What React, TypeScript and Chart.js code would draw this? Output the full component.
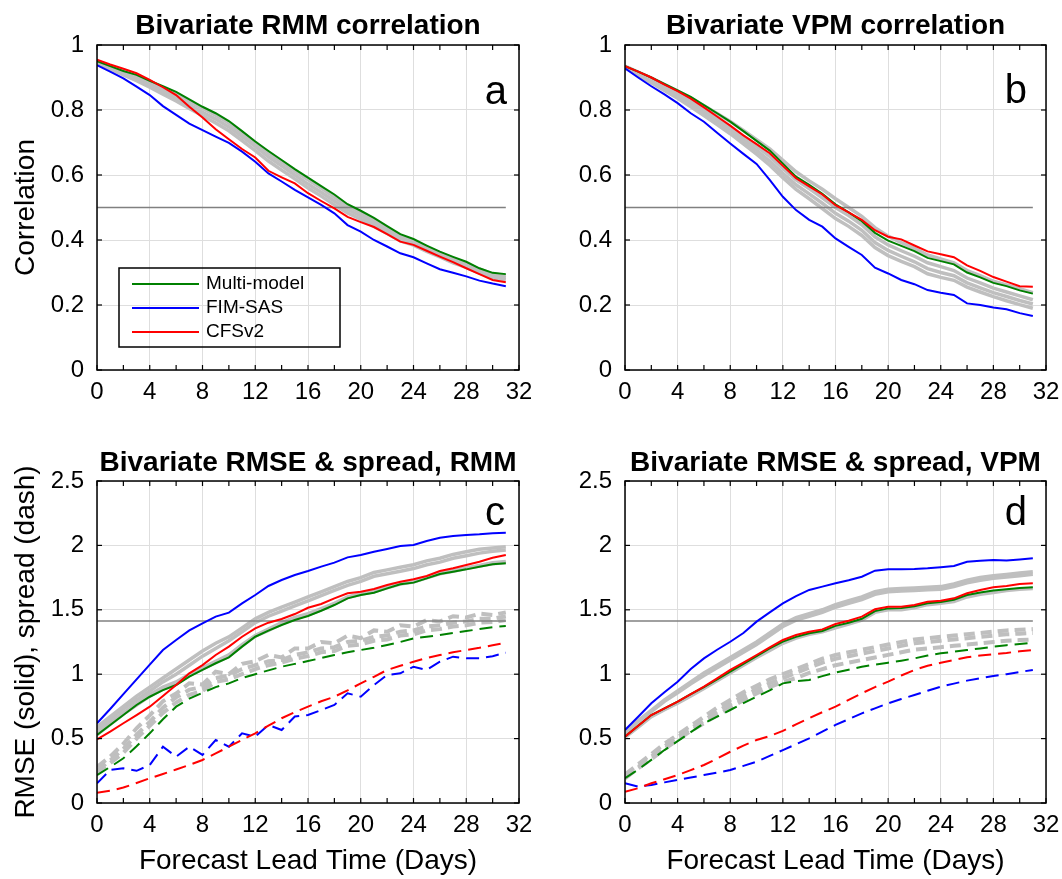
import { useEffect, useRef } from "react";
import { Chart, registerables } from "chart.js";

Chart.register(...registerables);

// ---------------- data ----------------
const leadDays = [0, 1, 2, 3, 4, 5, 6, 7, 8, 9, 10, 11, 12, 13, 14, 15, 16, 17, 18, 19, 20, 21, 22, 23, 24, 25, 26, 27, 28, 29, 30, 31];
const xTickLabels = ["0", "4", "8", "12", "16", "20", "24", "28", "32"];
const corrTickLabels = ["0", "0.2", "0.4", "0.6", "0.8", "1"];
const rmseTickLabels = ["0", "0.5", "1", "1.5", "2", "2.5"];
const legendLabels = ["Multi-model", "FIM-SAS", "CFSv2"];
const panelTitles = ["Bivariate RMM correlation", "Bivariate VPM correlation", "Bivariate RMSE & spread, RMM", "Bivariate RMSE & spread, VPM"];
const panelLetters = ["a", "b", "c", "d"];
const corrThreshold = 0.5;
const rmseThreshold = 1.414;

// (a) RMM correlation
const corrMultiRMM = [0.95, 0.935, 0.92, 0.908, 0.89, 0.873, 0.856, 0.833, 0.81, 0.79, 0.766, 0.735, 0.703, 0.674, 0.646, 0.618, 0.592, 0.566, 0.54, 0.51, 0.49, 0.468, 0.443, 0.418, 0.403, 0.383, 0.364, 0.348, 0.333, 0.313, 0.299, 0.295];
const corrFimRMM = [0.938, 0.918, 0.897, 0.872, 0.846, 0.812, 0.785, 0.758, 0.738, 0.718, 0.699, 0.672, 0.641, 0.605, 0.58, 0.554, 0.531, 0.508, 0.482, 0.446, 0.426, 0.4, 0.38, 0.359, 0.347, 0.328, 0.31, 0.299, 0.288, 0.275, 0.266, 0.258];
const corrCfsRMM = [0.955, 0.94, 0.927, 0.913, 0.893, 0.87, 0.846, 0.81, 0.777, 0.741, 0.71, 0.68, 0.654, 0.613, 0.593, 0.574, 0.544, 0.52, 0.497, 0.471, 0.455, 0.44, 0.418, 0.395, 0.385, 0.367, 0.349, 0.332, 0.313, 0.295, 0.277, 0.27];
const corrGrayRMM1 = [0.948, 0.933, 0.917, 0.902, 0.885, 0.866, 0.848, 0.826, 0.805, 0.784, 0.76, 0.73, 0.7, 0.668, 0.64, 0.612, 0.585, 0.56, 0.532, 0.505, 0.484, 0.462, 0.438, 0.413, 0.398, 0.378, 0.36, 0.343, 0.328, 0.31, 0.296, 0.29];
const corrGrayRMM2 = [0.947, 0.93, 0.913, 0.897, 0.878, 0.858, 0.838, 0.815, 0.793, 0.772, 0.748, 0.718, 0.688, 0.656, 0.628, 0.6, 0.572, 0.547, 0.52, 0.494, 0.474, 0.452, 0.428, 0.404, 0.39, 0.372, 0.354, 0.337, 0.322, 0.304, 0.29, 0.284];
const corrGrayRMM3 = [0.945, 0.927, 0.908, 0.89, 0.87, 0.849, 0.828, 0.805, 0.782, 0.76, 0.736, 0.706, 0.675, 0.643, 0.615, 0.588, 0.56, 0.535, 0.508, 0.483, 0.464, 0.442, 0.42, 0.397, 0.384, 0.365, 0.348, 0.33, 0.316, 0.298, 0.284, 0.278];

// (b) VPM correlation
const corrMultiVPM = [0.935, 0.918, 0.9, 0.88, 0.86, 0.84, 0.815, 0.79, 0.764, 0.735, 0.705, 0.675, 0.635, 0.595, 0.57, 0.542, 0.51, 0.485, 0.458, 0.422, 0.398, 0.382, 0.366, 0.345, 0.335, 0.325, 0.3, 0.285, 0.268, 0.258, 0.245, 0.235];
const corrFimVPM = [0.928, 0.9, 0.873, 0.848, 0.821, 0.79, 0.764, 0.73, 0.697, 0.665, 0.634, 0.585, 0.533, 0.492, 0.462, 0.441, 0.405, 0.379, 0.354, 0.315, 0.297, 0.277, 0.264, 0.246, 0.238, 0.231, 0.205, 0.2, 0.192, 0.187, 0.175, 0.166];
const corrCfsVPM = [0.935, 0.918, 0.9, 0.878, 0.858, 0.835, 0.808, 0.78, 0.752, 0.722, 0.695, 0.667, 0.628, 0.59, 0.565, 0.54, 0.507, 0.485, 0.462, 0.43, 0.41, 0.402, 0.383, 0.365, 0.356, 0.347, 0.322, 0.305, 0.286, 0.272, 0.258, 0.256];
const corrGrayVPM1 = [0.935, 0.917, 0.898, 0.878, 0.858, 0.837, 0.813, 0.789, 0.765, 0.737, 0.709, 0.68, 0.645, 0.61, 0.582, 0.556, 0.527, 0.5, 0.473, 0.438, 0.412, 0.392, 0.374, 0.354, 0.342, 0.33, 0.306, 0.29, 0.273, 0.262, 0.25, 0.238];
const corrGrayVPM2 = [0.933, 0.913, 0.892, 0.87, 0.848, 0.825, 0.8, 0.773, 0.746, 0.717, 0.688, 0.657, 0.62, 0.585, 0.558, 0.53, 0.5, 0.475, 0.447, 0.41, 0.385, 0.367, 0.35, 0.33, 0.318, 0.306, 0.283, 0.268, 0.252, 0.24, 0.228, 0.216];
const corrGrayVPM3 = [0.932, 0.91, 0.888, 0.865, 0.842, 0.818, 0.792, 0.765, 0.737, 0.707, 0.676, 0.643, 0.605, 0.57, 0.542, 0.513, 0.482, 0.458, 0.43, 0.392, 0.368, 0.35, 0.333, 0.312, 0.3, 0.29, 0.268, 0.253, 0.238, 0.226, 0.214, 0.203];
const corrGrayVPM4 = [0.93, 0.907, 0.884, 0.86, 0.836, 0.81, 0.783, 0.755, 0.727, 0.696, 0.664, 0.63, 0.592, 0.556, 0.527, 0.497, 0.466, 0.442, 0.414, 0.377, 0.352, 0.334, 0.318, 0.296, 0.285, 0.276, 0.255, 0.24, 0.226, 0.213, 0.201, 0.19];

// (c) RMM RMSE (solid) and spread (dash)
const rmseMultiRMM = [0.528, 0.606, 0.683, 0.761, 0.825, 0.877, 0.916, 0.981, 1.033, 1.085, 1.131, 1.214, 1.291, 1.338, 1.382, 1.421, 1.452, 1.493, 1.537, 1.589, 1.615, 1.633, 1.666, 1.698, 1.711, 1.744, 1.778, 1.796, 1.814, 1.835, 1.853, 1.861];
const rmseFimRMM = [0.619, 0.73, 0.845, 0.96, 1.075, 1.188, 1.266, 1.34, 1.395, 1.447, 1.478, 1.55, 1.615, 1.685, 1.731, 1.77, 1.801, 1.835, 1.866, 1.907, 1.925, 1.951, 1.972, 1.995, 2.003, 2.034, 2.06, 2.073, 2.081, 2.086, 2.094, 2.099];
const rmseCfsRMM = [0.494, 0.554, 0.619, 0.683, 0.748, 0.831, 0.916, 1.007, 1.071, 1.149, 1.214, 1.291, 1.356, 1.4, 1.429, 1.467, 1.516, 1.545, 1.589, 1.628, 1.641, 1.661, 1.693, 1.718, 1.737, 1.762, 1.801, 1.822, 1.848, 1.873, 1.904, 1.925];
const rmseGrayRMM1 = [0.59, 0.67, 0.75, 0.83, 0.9, 0.97, 1.04, 1.11, 1.18, 1.24, 1.29, 1.36, 1.43, 1.48, 1.52, 1.56, 1.6, 1.64, 1.68, 1.72, 1.75, 1.79, 1.81, 1.83, 1.85, 1.88, 1.9, 1.93, 1.95, 1.97, 1.98, 1.99];
const rmseGrayRMM2 = [0.57, 0.65, 0.73, 0.8, 0.87, 0.94, 1.0, 1.07, 1.14, 1.2, 1.26, 1.33, 1.4, 1.45, 1.49, 1.53, 1.57, 1.61, 1.65, 1.69, 1.72, 1.76, 1.78, 1.8, 1.82, 1.85, 1.87, 1.9, 1.92, 1.94, 1.955, 1.965];
const rmseGrayRMM3 = [0.54, 0.62, 0.7, 0.77, 0.84, 0.9, 0.94, 1.0, 1.05, 1.1, 1.15, 1.23, 1.3, 1.35, 1.4, 1.44, 1.47, 1.51, 1.55, 1.6, 1.625, 1.645, 1.675, 1.705, 1.72, 1.75, 1.785, 1.805, 1.825, 1.845, 1.865, 1.875];
const rmseGrayRMM4 = [0.53, 0.61, 0.69, 0.76, 0.83, 0.885, 0.925, 0.99, 1.04, 1.09, 1.14, 1.22, 1.295, 1.34, 1.39, 1.43, 1.46, 1.5, 1.545, 1.595, 1.62, 1.64, 1.67, 1.7, 1.715, 1.748, 1.78, 1.8, 1.82, 1.84, 1.858, 1.868];
const spreadMultiRMM = [0.217, 0.28, 0.347, 0.44, 0.541, 0.65, 0.748, 0.81, 0.856, 0.9, 0.929, 0.97, 1.0, 1.03, 1.058, 1.08, 1.102, 1.125, 1.149, 1.17, 1.188, 1.205, 1.227, 1.25, 1.278, 1.29, 1.304, 1.32, 1.335, 1.35, 1.365, 1.374];
const spreadFimRMM = [0.153, 0.256, 0.269, 0.25, 0.295, 0.437, 0.36, 0.437, 0.373, 0.489, 0.437, 0.541, 0.515, 0.606, 0.567, 0.671, 0.683, 0.722, 0.761, 0.852, 0.825, 0.916, 0.994, 1.007, 1.058, 1.033, 1.097, 1.136, 1.123, 1.123, 1.14, 1.167];
const spreadCfsRMM = [0.08, 0.095, 0.12, 0.155, 0.192, 0.225, 0.26, 0.295, 0.334, 0.385, 0.437, 0.49, 0.541, 0.6, 0.658, 0.705, 0.748, 0.79, 0.825, 0.875, 0.929, 0.98, 1.033, 1.065, 1.097, 1.125, 1.149, 1.17, 1.188, 1.205, 1.225, 1.245];
const spreadGrayRMM1 = [0.28, 0.36, 0.46, 0.58, 0.68, 0.79, 0.85, 0.93, 0.92, 1.02, 1.0, 1.08, 1.1, 1.15, 1.13, 1.2, 1.2, 1.25, 1.24, 1.3, 1.28, 1.34, 1.33, 1.38, 1.37, 1.42, 1.41, 1.45, 1.44, 1.47, 1.46, 1.48];
const spreadGrayRMM2 = [0.25, 0.33, 0.42, 0.53, 0.63, 0.74, 0.82, 0.88, 0.9, 0.97, 0.99, 1.04, 1.07, 1.1, 1.11, 1.15, 1.17, 1.2, 1.21, 1.25, 1.26, 1.29, 1.3, 1.33, 1.34, 1.37, 1.38, 1.4, 1.41, 1.43, 1.43, 1.45];
const spreadGrayRMM3 = [0.23, 0.31, 0.39, 0.5, 0.6, 0.7, 0.78, 0.84, 0.87, 0.94, 0.96, 1.0, 1.04, 1.07, 1.09, 1.12, 1.14, 1.17, 1.18, 1.22, 1.23, 1.26, 1.27, 1.3, 1.31, 1.34, 1.35, 1.37, 1.38, 1.4, 1.405, 1.42];

// (d) VPM RMSE (solid) and spread (dash)
const rmseMultiVPM = [0.515, 0.6, 0.683, 0.735, 0.787, 0.845, 0.9, 0.96, 1.02, 1.08, 1.14, 1.2, 1.253, 1.29, 1.318, 1.335, 1.375, 1.4, 1.43, 1.49, 1.511, 1.513, 1.527, 1.55, 1.56, 1.578, 1.615, 1.635, 1.649, 1.66, 1.67, 1.675];
const rmseFimVPM = [0.567, 0.67, 0.774, 0.86, 0.942, 1.04, 1.123, 1.19, 1.252, 1.32, 1.408, 1.48, 1.55, 1.607, 1.654, 1.68, 1.706, 1.73, 1.757, 1.804, 1.814, 1.815, 1.817, 1.822, 1.83, 1.84, 1.873, 1.88, 1.887, 1.882, 1.89, 1.9];
const rmseCfsVPM = [0.515, 0.6, 0.683, 0.735, 0.787, 0.845, 0.903, 0.968, 1.033, 1.09, 1.149, 1.208, 1.266, 1.304, 1.33, 1.348, 1.39, 1.415, 1.447, 1.504, 1.524, 1.524, 1.537, 1.563, 1.57, 1.589, 1.628, 1.654, 1.675, 1.685, 1.7, 1.706];
const rmseGrayVPM1 = [0.55, 0.64, 0.72, 0.8, 0.87, 0.94, 1.01, 1.07, 1.13, 1.19, 1.25, 1.32, 1.39, 1.44, 1.47, 1.5, 1.54, 1.57, 1.6, 1.64, 1.66, 1.665, 1.67, 1.675, 1.68, 1.7, 1.73, 1.75, 1.765, 1.775, 1.785, 1.795];
const rmseGrayVPM2 = [0.54, 0.63, 0.71, 0.79, 0.855, 0.925, 0.99, 1.05, 1.11, 1.17, 1.23, 1.3, 1.37, 1.42, 1.45, 1.48, 1.52, 1.55, 1.58, 1.62, 1.64, 1.645, 1.65, 1.655, 1.66, 1.68, 1.71, 1.73, 1.745, 1.755, 1.765, 1.775];
const rmseGrayVPM3 = [0.51, 0.59, 0.67, 0.725, 0.775, 0.83, 0.89, 0.95, 1.01, 1.07, 1.13, 1.185, 1.24, 1.28, 1.31, 1.33, 1.36, 1.39, 1.42, 1.48, 1.5, 1.5, 1.515, 1.54, 1.55, 1.565, 1.6, 1.62, 1.635, 1.65, 1.66, 1.665];
const spreadMultiVPM = [0.192, 0.26, 0.335, 0.411, 0.48, 0.55, 0.619, 0.67, 0.722, 0.775, 0.825, 0.875, 0.929, 0.945, 0.955, 0.985, 1.012, 1.035, 1.058, 1.075, 1.089, 1.105, 1.123, 1.145, 1.162, 1.175, 1.188, 1.2, 1.214, 1.225, 1.235, 1.245];
const spreadFimVPM = [0.153, 0.127, 0.14, 0.16, 0.179, 0.198, 0.217, 0.236, 0.256, 0.288, 0.321, 0.366, 0.411, 0.456, 0.502, 0.554, 0.606, 0.651, 0.696, 0.735, 0.774, 0.807, 0.839, 0.871, 0.903, 0.927, 0.95, 0.968, 0.986, 1.0, 1.017, 1.033];
const spreadCfsVPM = [0.088, 0.115, 0.153, 0.185, 0.217, 0.255, 0.295, 0.345, 0.398, 0.445, 0.489, 0.52, 0.56, 0.61, 0.658, 0.705, 0.748, 0.8, 0.852, 0.9, 0.942, 0.99, 1.033, 1.065, 1.089, 1.11, 1.131, 1.145, 1.155, 1.165, 1.178, 1.188];
const spreadGrayVPM1 = [0.22, 0.3, 0.38, 0.46, 0.53, 0.6, 0.67, 0.74, 0.8, 0.86, 0.91, 0.96, 1.0, 1.04, 1.08, 1.12, 1.15, 1.17, 1.19, 1.21, 1.23, 1.25, 1.27, 1.28, 1.29, 1.3, 1.31, 1.32, 1.33, 1.34, 1.345, 1.35];
const spreadGrayVPM2 = [0.2, 0.28, 0.36, 0.44, 0.51, 0.58, 0.64, 0.71, 0.77, 0.83, 0.88, 0.93, 0.97, 1.01, 1.05, 1.09, 1.12, 1.14, 1.16, 1.18, 1.2, 1.22, 1.24, 1.25, 1.26, 1.27, 1.28, 1.29, 1.3, 1.31, 1.315, 1.32];
const spreadGrayVPM3 = [0.19, 0.27, 0.34, 0.42, 0.49, 0.56, 0.62, 0.68, 0.74, 0.8, 0.85, 0.9, 0.94, 0.97, 1.01, 1.04, 1.07, 1.09, 1.11, 1.13, 1.15, 1.17, 1.19, 1.2, 1.21, 1.22, 1.23, 1.24, 1.25, 1.26, 1.265, 1.27];

// ---------------- styling ----------------
const FONT = '"Liberation Sans", Arial, Helvetica, sans-serif';
const C_MULTI = "#008000";
const C_FIM = "#0000ff";
const C_CFS = "#ff0000";
const C_GRAY = "#bfbfbf";
const C_REF = "#808080";
const C_GRID = "#dedede";
const legendColors = [C_MULTI, C_FIM, C_CFS];
const DASH = [13, 7];

const pts = (vals: number[]) => vals.map((v, i) => ({ x: leadDays[i], y: v }));
const refPts = (y: number) => [
  { x: leadDays[0], y },
  { x: leadDays[leadDays.length - 1], y },
];

function grayLine(vals: number[], dashed = false) {
  return {
    data: pts(vals),
    borderColor: C_GRAY,
    borderWidth: dashed ? 4 : 3.5,
    borderDash: dashed ? [11, 6] : [],
    order: 10,
  };
}
function colorLine(vals: number[], color: string, order: number, dashed = false) {
  return {
    data: pts(vals),
    borderColor: color,
    borderWidth: 2,
    borderDash: dashed ? DASH : [],
    order,
  };
}
function refLine(y: number) {
  return { data: refPts(y), borderColor: C_REF, borderWidth: 1.5, order: 8 };
}

const decorPlugin = {
  id: "decor",
  afterDraw(chart: any, _args: any, o: any) {
    const { ctx, chartArea: ca, scales } = chart;
    const xs = scales.x;
    const ys = scales.y;
    ctx.save();
    const seg = (x1: number, y1: number, x2: number, y2: number) => {
      ctx.beginPath();
      ctx.moveTo(x1, y1);
      ctx.lineTo(x2, y2);
      ctx.stroke();
    };
    ctx.strokeStyle = "#000";
    ctx.lineWidth = 1.2;
    xs.ticks.forEach((t: any) => {
      const px = xs.getPixelForValue(t.value);
      seg(px, ca.bottom, px, ca.bottom - 5);
      seg(px, ca.top, px, ca.top + 5);
    });
    ys.ticks.forEach((t: any) => {
      const py = ys.getPixelForValue(t.value);
      seg(ca.left, py, ca.left + 5, py);
      seg(ca.right, py, ca.right - 5, py);
    });
    ctx.lineWidth = 1.5;
    ctx.strokeRect(ca.left, ca.top, ca.right - ca.left, ca.bottom - ca.top);

    // title
    ctx.fillStyle = "#000";
    ctx.font = `bold 28px ${FONT}`;
    ctx.textAlign = "center";
    ctx.textBaseline = "alphabetic";
    ctx.fillText(o.title, (ca.left + ca.right) / 2, ca.top - o.titleGap);

    // panel letter
    ctx.font = `40px ${FONT}`;
    ctx.textAlign = "right";
    ctx.fillText(o.letter, ca.right - o.letterRight, ca.top + o.letterDrop);

    // legend
    if (o.legend) {
      const bw = 221;
      const bh = 79;
      const bx = ca.left + 22;
      const by = ca.bottom - 23 - bh;
      ctx.strokeStyle = "#000";
      ctx.lineWidth = 1.5;
      ctx.strokeRect(bx, by, bw, bh);
      ctx.font = `19px ${FONT}`;
      ctx.textAlign = "left";
      ctx.textBaseline = "middle";
      o.legend.labels.forEach((lab: string, i: number) => {
        const yy = by + 16 + i * 24;
        ctx.strokeStyle = o.legend.colors[i];
        ctx.lineWidth = 2;
        seg(bx + 13, yy, bx + 80, yy);
        ctx.fillStyle = "#000";
        ctx.fillText(lab, bx + 87, yy);
      });
    }
    ctx.restore();
  },
};

type PanelSpec = {
  datasets: any[];
  yMax: number;
  yStep: number;
  yLabels: string[];
  yTitle: string | null;
  xTitle: string | null;
  yWidth: number;
  padTop: number;
  padRight: number;
  xHeight: number;
  title: string;
  titleGap: number;
  letter: string;
  letterRight: number;
  letterDrop: number;
  legend: boolean;
};

function makeConfig(p: PanelSpec): any {
  return {
    type: "line",
    data: { datasets: p.datasets },
    plugins: [decorPlugin],
    options: {
      responsive: false,
      animation: false,
      events: [],
      layout: { padding: { left: 0, right: p.padRight, top: p.padTop, bottom: 0 } },
      elements: { point: { radius: 0 }, line: { tension: 0, fill: false } },
      plugins: {
        legend: { display: false },
        tooltip: { enabled: false },
        title: { display: false },
        decor: {
          title: p.title,
          titleGap: p.titleGap,
          letter: p.letter,
          letterRight: p.letterRight,
          letterDrop: p.letterDrop,
          legend: p.legend ? { labels: legendLabels, colors: legendColors } : null,
        },
      },
      scales: {
        x: {
          type: "linear",
          min: 0,
          max: 32,
          border: { display: false },
          grid: {
            drawTicks: false,
            lineWidth: 1,
            color: (c: any) => (c.tick && c.tick.value % 4 === 0 ? C_GRID : "rgba(0,0,0,0)"),
          },
          ticks: {
            stepSize: 2,
            autoSkip: false,
            maxRotation: 0,
            padding: 8,
            color: "#000",
            font: { family: FONT, size: 24 },
            callback: (v: number) => (v % 4 === 0 ? xTickLabels[v / 4] : ""),
          },
          title: {
            display: !!p.xTitle,
            text: p.xTitle || "",
            color: "#000",
            font: { family: FONT, size: 28 },
            padding: { top: 0, bottom: 1 },
          },
          afterFit: (s: any) => {
            s.height = p.xHeight;
            s.paddingLeft = 0;
            s.paddingRight = 0;
          },
        },
        y: {
          type: "linear",
          min: 0,
          max: p.yMax,
          border: { display: false },
          grid: { drawTicks: false, lineWidth: 1, color: C_GRID },
          ticks: {
            stepSize: p.yStep,
            padding: 13,
            color: "#000",
            font: { family: FONT, size: 24 },
            callback: (v: number) => p.yLabels[Math.round(v / p.yStep)],
          },
          title: {
            display: !!p.yTitle,
            text: p.yTitle || "",
            color: "#000",
            font: { family: FONT, size: 28 },
            padding: { top: 9, bottom: 0 },
          },
          afterFit: (s: any) => {
            s.width = p.yWidth;
            s.paddingTop = 0;
            s.paddingBottom = 0;
          },
        },
      },
    },
  };
}

const specA: PanelSpec = {
  datasets: [
    colorLine(corrCfsRMM, C_CFS, 1),
    colorLine(corrFimRMM, C_FIM, 2),
    colorLine(corrMultiRMM, C_MULTI, 3),
    refLine(corrThreshold),
    grayLine(corrGrayRMM1),
    grayLine(corrGrayRMM2),
    grayLine(corrGrayRMM3),
  ],
  yMax: 1,
  yStep: 0.2,
  yLabels: corrTickLabels,
  yTitle: "Correlation",
  xTitle: null,
  yWidth: 97,
  padTop: 45,
  padRight: 12,
  xHeight: 70,
  title: panelTitles[0],
  titleGap: 11,
  letter: panelLetters[0],
  letterRight: 12,
  letterDrop: 59,
  legend: true,
};

const specB: PanelSpec = {
  datasets: [
    colorLine(corrCfsVPM, C_CFS, 1),
    colorLine(corrFimVPM, C_FIM, 2),
    colorLine(corrMultiVPM, C_MULTI, 3),
    refLine(corrThreshold),
    grayLine(corrGrayVPM1),
    grayLine(corrGrayVPM2),
    grayLine(corrGrayVPM3),
    grayLine(corrGrayVPM4),
  ],
  yMax: 1,
  yStep: 0.2,
  yLabels: corrTickLabels,
  yTitle: null,
  xTitle: null,
  yWidth: 94,
  padTop: 45,
  padRight: 16,
  xHeight: 70,
  title: panelTitles[1],
  titleGap: 11,
  letter: panelLetters[1],
  letterRight: 19,
  letterDrop: 58,
  legend: false,
};

const specC: PanelSpec = {
  datasets: [
    colorLine(rmseCfsRMM, C_CFS, 1),
    colorLine(rmseFimRMM, C_FIM, 2),
    colorLine(rmseMultiRMM, C_MULTI, 3),
    colorLine(spreadCfsRMM, C_CFS, 4, true),
    colorLine(spreadFimRMM, C_FIM, 5, true),
    colorLine(spreadMultiRMM, C_MULTI, 6, true),
    refLine(rmseThreshold),
    grayLine(rmseGrayRMM1),
    grayLine(rmseGrayRMM2),
    grayLine(rmseGrayRMM3),
    grayLine(rmseGrayRMM4),
    grayLine(spreadGrayRMM1, true),
    grayLine(spreadGrayRMM2, true),
    grayLine(spreadGrayRMM3, true),
  ],
  yMax: 2.5,
  yStep: 0.5,
  yLabels: rmseTickLabels,
  yTitle: "RMSE (solid), spread (dash)",
  xTitle: "Forecast Lead Time (Days)",
  yWidth: 97,
  padTop: 41,
  padRight: 12,
  xHeight: 76,
  title: panelTitles[2],
  titleGap: 10,
  letter: panelLetters[2],
  letterRight: 14,
  letterDrop: 44,
  legend: false,
};

const specD: PanelSpec = {
  datasets: [
    colorLine(rmseCfsVPM, C_CFS, 1),
    colorLine(rmseFimVPM, C_FIM, 2),
    colorLine(rmseMultiVPM, C_MULTI, 3),
    colorLine(spreadCfsVPM, C_CFS, 4, true),
    colorLine(spreadFimVPM, C_FIM, 5, true),
    colorLine(spreadMultiVPM, C_MULTI, 6, true),
    refLine(rmseThreshold),
    grayLine(rmseGrayVPM1),
    grayLine(rmseGrayVPM2),
    grayLine(rmseGrayVPM3),
    grayLine(spreadGrayVPM1, true),
    grayLine(spreadGrayVPM2, true),
    grayLine(spreadGrayVPM3, true),
  ],
  yMax: 2.5,
  yStep: 0.5,
  yLabels: rmseTickLabels,
  yTitle: null,
  xTitle: "Forecast Lead Time (Days)",
  yWidth: 94,
  padTop: 41,
  padRight: 16,
  xHeight: 76,
  title: panelTitles[3],
  titleGap: 10,
  letter: panelLetters[3],
  letterRight: 19,
  letterDrop: 44,
  legend: false,
};

function Panel({ left, top, width, height, spec }: { left: number; top: number; width: number; height: number; spec: PanelSpec }) {
  const ref = useRef<HTMLCanvasElement | null>(null);
  useEffect(() => {
    if (!ref.current) return;
    const chart = new Chart(ref.current, makeConfig(spec));
    return () => chart.destroy();
  }, [spec]);
  return (
    <canvas
      ref={ref}
      width={width}
      height={height}
      style={{ position: "absolute", left, top, width, height, display: "block" }}
    />
  );
}

export default function App() {
  return (
    <div style={{ position: "absolute", left: 0, top: 0, width: 1062, height: 879, background: "#fff" }}>
      <Panel left={0} top={0} width={531} height={440} spec={specA} />
      <Panel left={531} top={0} width={531} height={440} spec={specB} />
      <Panel left={0} top={440} width={531} height={439} spec={specC} />
      <Panel left={531} top={440} width={531} height={439} spec={specD} />
    </div>
  );
}
